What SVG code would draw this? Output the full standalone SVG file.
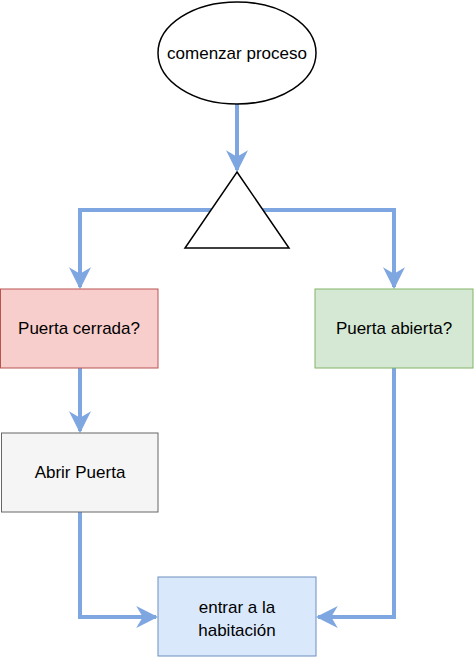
<svg xmlns="http://www.w3.org/2000/svg" width="474" height="657" viewBox="0 0 474 657">
<style>
.t{font-family:"Liberation Sans",Arial,sans-serif;font-size:17px;fill:#000;text-anchor:middle}
.c{fill:none;stroke:#7ea6e0;stroke-width:4}
</style>
<defs>
<marker id="ar" viewBox="0 0 10 10" refX="9" refY="5" markerWidth="5.5" markerHeight="5.5" markerUnits="strokeWidth" orient="auto">
<path d="M0,0 L10,5 L0,10 L3,5 Z" fill="#7ea6e0"/>
</marker>
</defs>
<rect width="474" height="657" fill="#fff"/>
<g id="connectors">
<path class="c" d="M237,104 V170" marker-end="url(#ar)"/>
<path class="c" d="M211,210 H80 V287" marker-end="url(#ar)"/>
<path class="c" d="M263,210 H394 V287" marker-end="url(#ar)"/>
<path class="c" d="M80,368 V431" marker-end="url(#ar)"/>
<path class="c" d="M80,512 V617 H156" marker-end="url(#ar)"/>
<path class="c" d="M394,368 V617 H318" marker-end="url(#ar)"/>
</g>
<g id="start">
<ellipse cx="237" cy="53" rx="79" ry="51" fill="#fff" stroke="#000" stroke-width="1.5"/>
<text class="t" x="237" y="59">comenzar proceso</text>
</g>
<g id="split">
<polygon points="237,172 289,248 185,248" fill="#fff" stroke="#000" stroke-width="1.5"/>
</g>
<g id="cerrada">
<rect x="0.5" y="289" width="157.5" height="79" fill="#f8cecc" stroke="#b85450"/>
<text class="t" x="79" y="334">Puerta cerrada?</text>
</g>
<g id="abierta">
<rect x="315" y="289" width="158" height="79" fill="#d5e8d4" stroke="#82b366"/>
<text class="t" x="394" y="334">Puerta abierta?</text>
</g>
<g id="abrir">
<rect x="1.5" y="433" width="156.5" height="79" fill="#f5f5f5" stroke="#666666"/>
<text class="t" x="80" y="478">Abrir Puerta</text>
</g>
<g id="entrar">
<rect x="158" y="577" width="158" height="79" fill="#dae8fc" stroke="#6c8ebf"/>
<text class="t" x="237" y="613">entrar a la</text>
<text class="t" x="237" y="636">habitación</text>
</g>
</svg>
